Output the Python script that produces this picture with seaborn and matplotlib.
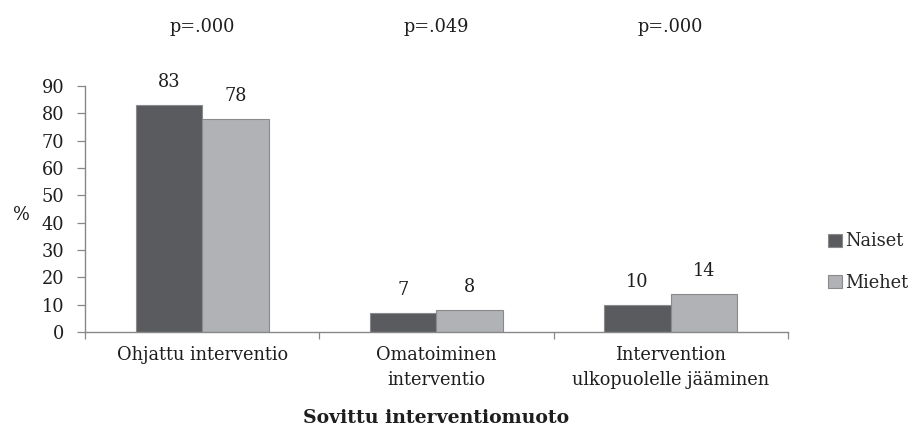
import matplotlib
matplotlib.use("Agg")
import matplotlib.pyplot as plt
import seaborn as sns
import pandas as pd

categories = ["Ohjattu interventio", "Omatoiminen\ninterventio", "Intervention\nulkopuolelle jääminen"]
naiset = [83, 7, 10]
miehet = [78, 8, 14]
series = ["Naiset", "Miehet"]
pvalues = ["p=.000", "p=.049", "p=.000"]

df = pd.DataFrame({
    "cat": categories * 2,
    "val": naiset + miehet,
    "sex": [series[0]] * 3 + [series[1]] * 3,
})

sns.set_theme(style="white")
plt.rcParams["font.family"] = ["DejaVu Serif"]
FS = 12.8
TXT = "#1e1e1e"

fig = plt.figure(figsize=(9.15, 4.32), dpi=100)
ax = fig.add_axes([0.093, 0.231, 0.768, 0.570])

sns.barplot(data=df, x="cat", y="val", hue="sex", order=categories, hue_order=series,
            palette=["#5a5b5e", "#b1b2b5"], width=0.567, ax=ax, saturation=1,
            edgecolor="#8a8a8c", linewidth=0.8)

for c in ax.containers:
    ax.bar_label(c, fmt="%d", padding=10, fontsize=FS, color=TXT)

ax.set_ylim(0, 90)
ax.set_xlim(-0.5, 2.5)
ax.set_yticks(range(0, 91, 10))
ax.set_xticks([-0.5, 0.5, 1.5, 2.5], minor=True)
ax.tick_params(axis="y", labelsize=FS, length=6, width=0.9, color="#888888", direction="out", left=True, pad=9)
ax.tick_params(axis="x", which="major", labelsize=FS, length=0, pad=10)
ax.tick_params(axis="x", which="minor", length=5, width=0.9, color="#888888", direction="out", bottom=True)
for lab in ax.get_yticklabels() + ax.get_xticklabels():
    lab.set_color(TXT)
for lab in ax.get_xticklabels():
    lab.set_linespacing(1.5)
for s in ["top", "right"]:
    ax.spines[s].set_visible(False)
for s in ["left", "bottom"]:
    ax.spines[s].set_color("#888888")
    ax.spines[s].set_linewidth(1.0)

ax.set_ylabel("%", fontsize=FS, rotation=0, color=TXT)
ax.yaxis.set_label_coords(-0.09, 0.44)
ax.set_xlabel("Sovittu interventiomuoto", fontsize=13.6, fontweight="bold", color=TXT, labelpad=14)

for i, p in enumerate(pvalues):
    ax.text(i, 1.24, p, transform=ax.get_xaxis_transform(), ha="center", va="center",
            fontsize=FS, color=TXT)

leg = ax.legend(loc="center left", bbox_to_anchor=(1.035, 0.285), frameon=False, fontsize=FS,
                handlelength=0.75, handleheight=0.75, handletextpad=0.2, labelspacing=1.3)

fig.savefig("out.png", dpi=100)
